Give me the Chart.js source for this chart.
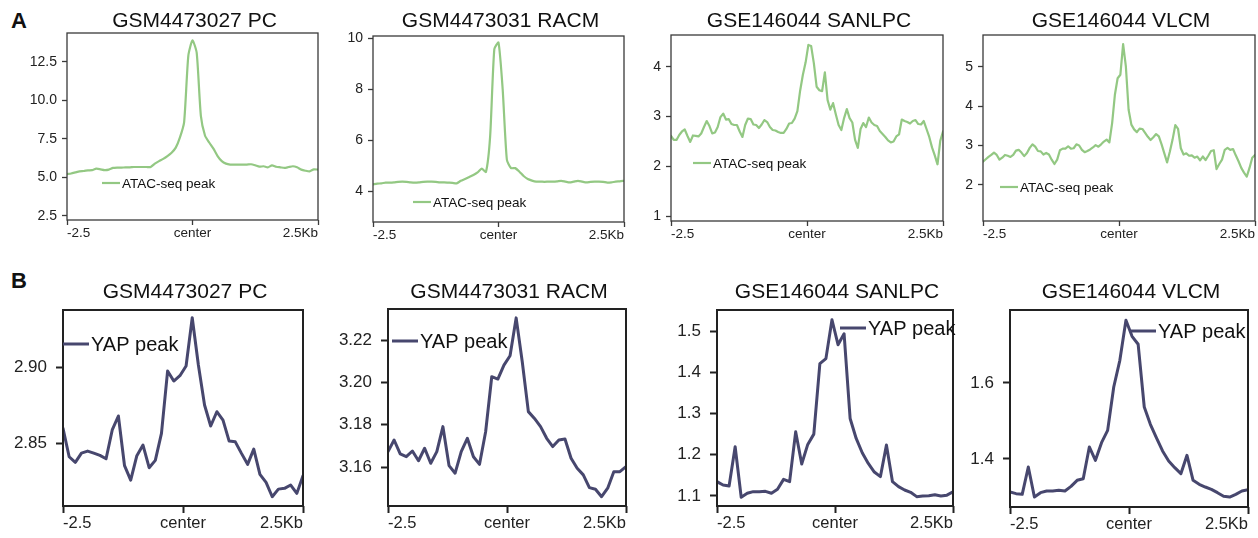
<!DOCTYPE html>
<html><head><meta charset="utf-8">
<script src="https://cdn.jsdelivr.net/npm/chart.js@4.4.1/dist/chart.umd.min.js"></script>
<style>
html,body{margin:0;padding:0;background:#fff;}
#wrap{position:relative;width:1258px;height:538px;overflow:hidden;background:#fff;}
#wrap canvas{position:absolute;left:0;top:0;}
.lab{position:absolute;font:bold 22px "Liberation Sans",Arial,sans-serif;color:#111;line-height:22px;}
</style></head><body>
<div id="wrap">
<div class="lab" style="left:11px;top:10px">A</div>
<div class="lab" style="left:11px;top:270px">B</div>
</div>
<script>
// ---------- data ----------
const titles = ['GSM4473027 PC', 'GSM4473031 RACM', 'GSE146044 SANLPC', 'GSE146044 VLCM'];
const xTickValues = [-2.5, 0, 2.5];
const xTickLabels = ['-2.5', 'center', '2.5Kb'];

const atacPC = [5.22,5.26,5.33,5.40,5.42,5.46,5.48,5.57,5.53,5.48,5.51,5.62,5.64,5.64,5.66,5.66,5.68,5.68,5.68,5.68,5.68,
  5.90,6.06,6.21,6.39,6.61,6.94,7.60,8.60,12.90,13.90,13.10,9.00,7.71,7.27,6.87,6.39,6.06,5.90,5.84,
  5.84,5.84,5.84,5.84,5.86,5.79,5.70,5.73,5.66,5.79,5.70,5.66,5.62,5.68,5.73,5.66,5.51,5.44,5.40,5.53,5.51];
const atacRACM = [4.26,4.29,4.30,4.33,4.33,4.34,4.36,4.37,4.36,4.34,4.33,4.34,4.36,4.37,4.37,4.36,4.34,4.34,4.33,4.32,4.30,
  4.40,4.47,4.55,4.63,4.73,4.88,4.75,6.15,9.58,9.84,8.00,5.23,
  4.90,4.90,4.76,4.59,4.47,4.41,4.37,4.37,4.36,4.37,4.37,4.38,4.40,4.37,4.34,4.37,4.40,4.37,4.34,4.36,4.37,4.37,4.36,4.33,4.34,4.37,4.38,4.40];
const atacSANLPC = [2.61,2.53,2.53,2.63,2.70,2.74,2.61,2.49,2.62,2.61,
  2.60,2.66,2.79,2.91,2.81,2.66,2.68,2.79,2.99,3.06,
  2.94,2.95,2.85,2.83,2.83,2.70,2.59,2.83,2.96,2.95,
  2.84,2.83,2.77,2.84,2.93,2.89,2.79,2.73,2.72,2.69,
  2.67,2.67,2.75,2.86,2.87,2.96,3.11,3.52,3.84,4.09,
  4.44,4.42,4.07,3.60,3.53,3.51,3.89,3.33,3.14,3.27,
  3.04,2.83,2.73,2.97,3.15,2.97,2.88,2.53,2.37,2.75,
  2.87,2.79,2.98,2.88,2.83,2.81,2.71,2.65,2.59,2.52,
  2.48,2.50,2.60,2.64,2.94,2.91,2.89,2.86,2.91,2.93,
  2.85,2.84,2.91,2.75,2.59,2.38,2.22,2.04,2.51,2.70];
const atacVLCM = [2.59,2.65,2.71,2.76,2.82,2.76,2.64,2.69,2.76,2.74,
  2.71,2.76,2.87,2.89,2.82,2.73,2.81,2.94,3.03,2.97,
  2.86,2.85,2.77,2.81,2.77,2.64,2.53,2.64,2.88,2.92,
  2.92,2.98,2.92,2.93,3.03,3.00,2.89,2.83,2.86,2.90,
  2.95,3.01,2.97,3.03,3.10,3.15,3.08,3.57,4.29,4.71,
  4.80,5.58,5.01,3.91,3.53,3.41,3.34,3.43,3.42,3.32,
  3.22,3.14,3.21,3.29,3.23,3.03,2.80,2.57,2.84,3.15,
  3.52,3.42,2.93,2.77,2.80,2.74,2.75,2.69,2.72,2.62,
  2.72,2.63,2.74,2.86,2.88,2.40,2.53,2.64,2.89,2.94,
  2.89,2.91,2.75,2.60,2.43,2.31,2.21,2.43,2.69,2.76];

const yapPC = [2.8597,2.8410,2.8373,2.8434,2.8447,2.8434,2.8419,2.8397,2.8586,2.8678,
  2.8351,2.8256,2.8417,2.8487,2.8338,2.8386,2.8564,2.8974,2.8908,2.8943,
  2.9007,2.9324,2.9013,2.8750,2.8612,2.8706,2.8651,2.8513,2.8508,2.8432,
  2.8360,2.8460,2.8294,2.8241,2.8147,2.8197,2.8202,2.8224,2.8169,2.8285];
const yapRACM = [3.1673,3.1728,3.1662,3.1649,3.1676,3.1630,3.1689,3.1618,3.1673,3.1791,
  3.1607,3.1571,3.1673,3.1736,3.1649,3.1613,3.1767,3.2027,3.2016,3.2082,
  3.2126,3.2305,3.2098,3.1862,3.1830,3.1791,3.1736,3.1697,3.1728,3.1733,
  3.1642,3.1594,3.1563,3.1503,3.1495,3.1460,3.1500,3.1578,3.1578,3.1602];
const yapSANLPC = [1.1347,1.1266,1.1242,1.2194,1.0968,1.1065,1.1105,1.1105,1.1113,1.1065,
  1.1161,1.1403,1.1347,1.2556,1.1774,1.2250,1.2500,1.4210,1.4331,1.5274,
  1.4669,1.4935,1.2879,1.2395,1.2048,1.1790,1.1581,1.1468,1.2234,1.1347,
  1.1226,1.1145,1.1089,1.0984,1.1000,1.1008,1.1030,1.1000,1.1020,1.1100];
const yapVLCM = [1.3132,1.3088,1.3070,1.3789,1.3000,1.3114,1.3158,1.3158,1.3175,1.3158,
  1.3281,1.3439,1.3482,1.4316,1.3965,1.4430,1.4754,1.5895,1.6596,1.7649,
  1.7228,1.7018,1.5368,1.4912,1.4553,1.4211,1.3947,1.3772,1.3614,1.4096,
  1.3439,1.3333,1.3263,1.3202,1.3114,1.3018,1.3000,1.3070,1.3158,1.3193];

const ticksAtacPC = [2.5, 5, 7.5, 10, 12.5];
const labelsAtacPC = ['2.5', '5.0', '7.5', '10.0', '12.5'];
const ticksAtacRACM = [4, 6, 8, 10];
const labelsAtacRACM = ['4', '6', '8', '10'];
const ticksAtacSANLPC = [1, 2, 3, 4];
const labelsAtacSANLPC = ['1', '2', '3', '4'];
const ticksAtacVLCM = [2, 3, 4, 5];
const labelsAtacVLCM = ['2', '3', '4', '5'];
const ticksYapPC = [2.85, 2.90];
const labelsYapPC = ['2.85', '2.90'];
const ticksYapRACM = [3.16, 3.18, 3.20, 3.22];
const labelsYapRACM = ['3.16', '3.18', '3.20', '3.22'];
const ticksYapSANLPC = [1.1, 1.2, 1.3, 1.4, 1.5];
const labelsYapSANLPC = ['1.1', '1.2', '1.3', '1.4', '1.5'];
const ticksYapVLCM = [1.4, 1.6];
const labelsYapVLCM = ['1.4', '1.6'];

// ---------- layout / style ----------
const FONT = '"Liberation Sans", Arial, Helvetica, sans-serif';
const W = 1258, H = 538, Y_W = 50, X_H = 34;
const styles = {
  A: {color: '#93c883', lw: 2.2, yFont: 14, xFont: 13.5, tickLen: 5, yPad: 5, xPad: 0, border: '#3a3a3a', borderW: 1.3,
      legendText: 'ATAC-seq peak', legendFont: 13.5, legendLen: 18, titleY: 21},
  B: {color: '#47476e', lw: 3, yFont: 17, xFont: 16.5, tickLen: 7, yPad: 9, xPad: 1, border: '#222', borderW: 2,
      legendText: 'YAP peak', legendFont: 20, legendLen: 26, titleY: 292}
};
const panels = [
  {s: 'A', t: 0, data: atacPC, tension: 0.2, rect: [67, 33, 318, 220], yMin: 2.24, yMax: 14.38, ticks: ticksAtacPC, labels: labelsAtacPC, leg: [35, 150]},
  {s: 'A', t: 1, data: atacRACM, tension: 0.2, rect: [373, 36, 624, 222], yMin: 2.78, yMax: 10.1, ticks: ticksAtacRACM, labels: labelsAtacRACM, leg: [40, 166]},
  {s: 'A', t: 2, data: atacSANLPC, tension: 0, rect: [671, 35, 943, 221], yMin: 0.9, yMax: 4.64, ticks: ticksAtacSANLPC, labels: labelsAtacSANLPC, leg: [22, 128]},
  {s: 'A', t: 3, data: atacVLCM, tension: 0, rect: [983, 35, 1255, 221], yMin: 1.08, yMax: 5.81, ticks: ticksAtacVLCM, labels: labelsAtacVLCM, leg: [17, 152]},
  {s: 'B', t: 0, data: yapPC, tension: 0, rect: [63, 310, 303, 506], yMin: 2.8086, yMax: 2.9375, ticks: ticksYapPC, labels: labelsYapPC, leg: [0, 34]},
  {s: 'B', t: 1, data: yapRACM, tension: 0, rect: [388, 309, 626, 506], yMin: 3.1416, yMax: 3.2347, ticks: ticksYapRACM, labels: labelsYapRACM, leg: [4, 32]},
  {s: 'B', t: 2, data: yapSANLPC, tension: 0, rect: [717, 310, 953, 506], yMin: 1.0757, yMax: 1.551, ticks: ticksYapSANLPC, labels: labelsYapSANLPC, leg: [123, 18]},
  {s: 'B', t: 3, data: yapVLCM, tension: 0, rect: [1010, 310, 1248, 507], yMin: 1.2737, yMax: 1.792, ticks: ticksYapVLCM, labels: labelsYapVLCM, leg: [120, 21]}
];

const panelDeco = {
  id: 'panelDeco',
  afterDraw(chart, args, o) {
    const ctx = chart.ctx, a = chart.chartArea;
    ctx.save();
    ctx.strokeStyle = o.border; ctx.lineWidth = o.borderW;
    ctx.strokeRect(a.left, a.top, a.right - a.left, a.bottom - a.top);
    ctx.fillStyle = '#111';
    ctx.font = '21px ' + FONT;
    ctx.textAlign = 'center'; ctx.textBaseline = 'middle';
    ctx.fillText(o.title, (a.left + a.right) / 2 + 2, o.titleY);
    const lx = a.left + o.leg[0], ly = a.top + o.leg[1];
    ctx.strokeStyle = o.color; ctx.lineWidth = o.lw;
    ctx.beginPath(); ctx.moveTo(lx, ly); ctx.lineTo(lx + o.legendLen, ly); ctx.stroke();
    ctx.font = o.legendFont + 'px ' + FONT;
    ctx.textAlign = 'left';
    ctx.fillText(o.legendText, lx + o.legendLen + 2, ly + 1);
    ctx.restore();
  }
};

const wrap = document.getElementById('wrap');
panels.forEach(p => {
  const st = styles[p.s];
  const cv = document.createElement('canvas');
  cv.width = W; cv.height = H;
  cv.style.width = W + 'px'; cv.style.height = H + 'px';
  wrap.appendChild(cv);
  const n = p.data.length;
  const pts = p.data.map((v, i) => ({x: -2.5 + 5 * i / (n - 1), y: v}));
  const [l, t, r, b] = p.rect;
  new Chart(cv, {
    type: 'line',
    data: {datasets: [{data: pts, borderColor: st.color, borderWidth: st.lw, pointRadius: 0, tension: p.tension, fill: false,
      borderJoinStyle: 'round', borderCapStyle: 'round'}]},
    options: {
      responsive: false, animation: false, devicePixelRatio: 1,
      layout: {padding: {left: l - Y_W, top: t, right: W - r, bottom: H - b - X_H}},
      plugins: {legend: {display: false}, tooltip: {enabled: false}, title: {display: false},
        panelDeco: Object.assign({}, st, {title: titles[p.t], leg: p.leg})},
      scales: {
        x: {
          type: 'linear', min: -2.5, max: 2.5,
          afterBuildTicks: ax => { ax.ticks = xTickValues.map(v => ({value: v})); },
          afterFit: ax => { ax.height = X_H; },
          ticks: {autoSkip: false, maxRotation: 0, align: 'inner', padding: st.xPad, color: '#222',
            font: {family: FONT, size: st.xFont},
            callback: (v, i) => xTickLabels[i]},
          grid: {display: true, drawOnChartArea: false, drawTicks: true, tickLength: st.tickLen, tickColor: st.border, tickWidth: st.borderW},
          border: {display: false}
        },
        y: {
          type: 'linear', min: p.yMin, max: p.yMax,
          afterBuildTicks: ax => { ax.ticks = p.ticks.map(v => ({value: v})); },
          afterFit: ax => { ax.width = Y_W; },
          ticks: {autoSkip: false, padding: st.yPad, color: '#222',
            font: {family: FONT, size: st.yFont},
            callback: (v, i) => p.labels[i]},
          grid: {display: true, drawOnChartArea: false, drawTicks: true, tickLength: st.tickLen, tickColor: st.border, tickWidth: st.borderW},
          border: {display: false}
        }
      }
    },
    plugins: [panelDeco]
  });
});
</script>
</body></html>
